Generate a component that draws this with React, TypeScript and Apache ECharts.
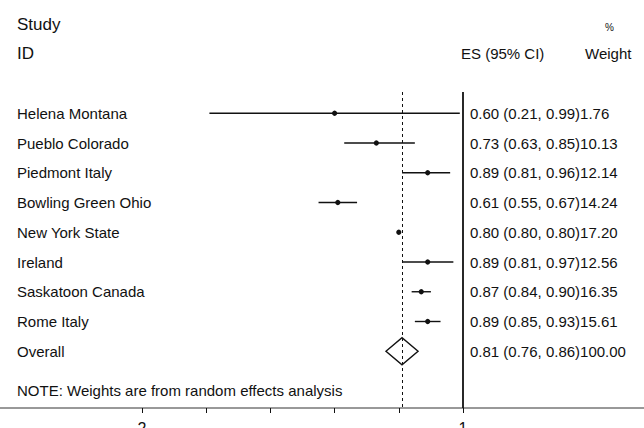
import React, { useEffect, useRef } from "react";
import * as echarts from "echarts";

// ---- data ----
const studies = [
  "Helena Montana",
  "Pueblo Colorado",
  "Piedmont Italy",
  "Bowling Green Ohio",
  "New York State",
  "Ireland",
  "Saskatoon Canada",
  "Rome Italy",
];
const es = [0.6, 0.73, 0.89, 0.61, 0.8, 0.89, 0.87, 0.89];
const lower = [0.21, 0.63, 0.81, 0.55, 0.8, 0.81, 0.84, 0.85];
const upper = [0.99, 0.85, 0.96, 0.67, 0.8, 0.97, 0.9, 0.93];
const weights = [1.76, 10.13, 12.14, 14.24, 17.2, 12.56, 16.35, 15.61];
const overall = { label: "Overall", es: 0.81, lower: 0.76, upper: 0.86, weight: 100.0 };
const xTickLabels: Record<string, string> = { "0": "2", "1": "1" };
const note = "NOTE: Weights are from random effects analysis";

// ---- layout ----
const W = 644;
const H = 428;
const FONT = "'Liberation Sans', Arial, sans-serif";
const FS = 15;
const HFS = 17;
const rowH = 29.75;
const row0Y = 24; // centre of "Study" row
const plotTop = 92;
const axisY = 408;
const noteY = 390;
const plotLeft = 142;
const plotRight = 463;
const textX = 17;
const esX = 470;
const firstStudyRow = 3;
const INK = "#111";

const fmt = (v: number) => v.toFixed(2);

export default function App() {
  const ref = useRef<HTMLDivElement>(null);
  useEffect(() => {
    if (!ref.current) return;
    const chart = echarts.init(ref.current, undefined, { renderer: "svg" });
    const yMin = (plotTop - row0Y) / rowH;
    const yMax = (axisY - row0Y) / rowH;
    const rowY = (r: number) => row0Y + r * rowH;

    const studyData = studies.map((s, i) => [es[i], firstStudyRow + i, lower[i], upper[i], weights[i], i]);
    const overallRow = firstStudyRow + studies.length;

    const option: any = {
      animation: false,
      backgroundColor: "#fff",
      grid: {
        left: plotLeft,
        width: plotRight - plotLeft,
        top: plotTop,
        height: axisY - plotTop,
        containLabel: false,
        outerBoundsMode: "none",
      },
      xAxis: {
        type: "value",
        min: 0,
        max: 1,
        interval: 0.2,
        splitLine: { show: false },
        axisLine: { show: false },
        axisTick: { show: true, length: 5, lineStyle: { color: INK, width: 1 } },
        axisLabel: {
          show: true,
          margin: 12,
          fontFamily: FONT,
          fontSize: 16,
          color: INK,
          formatter: (v: number) => xTickLabels[String(Math.round(v * 10) / 10)] ?? "",
        },
      },
      yAxis: { type: "value", inverse: true, min: yMin, max: yMax, show: false },
      graphic: [
        { type: "text", x: textX, y: rowY(0), style: { text: "Study", font: `${HFS}px ${FONT}`, fill: INK, verticalAlign: "middle" } },
        { type: "text", x: textX, y: rowY(1), style: { text: "ID", font: `${HFS}px ${FONT}`, fill: INK, verticalAlign: "middle" } },
        { type: "text", x: 605, y: rowY(0) + 3, style: { text: "%", font: `10px ${FONT}`, fill: INK, verticalAlign: "middle" } },
        { type: "text", x: 461, y: rowY(1), style: { text: "ES (95% CI)", font: `${FS}px ${FONT}`, fill: INK, verticalAlign: "middle" } },
        { type: "text", x: 585, y: rowY(1), style: { text: "Weight", font: `${FS}px ${FONT}`, fill: INK, verticalAlign: "middle" } },
        { type: "text", x: textX, y: noteY, style: { text: note, font: `${FS}px ${FONT}`, fill: INK, verticalAlign: "middle" } },
        { type: "line", shape: { x1: 0, y1: axisY, x2: W, y2: axisY }, style: { stroke: "#333", lineWidth: 1 } },
      ],
      series: [
        {
          type: "custom",
          clip: false,
          data: studyData,
          renderItem: (params: any, api: any) => {
            const y = api.value(1);
            const p = api.coord([api.value(0), y]);
            const lo = api.coord([api.value(2), y]);
            const hi = api.coord([api.value(3), y]);
            const i = api.value(5);
            return {
              type: "group",
              children: [
                { type: "line", shape: { x1: lo[0], y1: p[1], x2: hi[0], y2: p[1] }, style: { stroke: INK, lineWidth: 1.4 } },
                { type: "circle", shape: { cx: p[0], cy: p[1], r: 2.6 }, style: { fill: INK } },
                { type: "text", x: textX, y: p[1], style: { text: studies[i], font: `${FS}px ${FONT}`, fill: INK, verticalAlign: "middle" } },
                {
                  type: "text",
                  x: esX,
                  y: p[1],
                  style: {
                    text: `${fmt(es[i])} (${fmt(lower[i])}, ${fmt(upper[i])})${fmt(weights[i])}`,
                    font: `${FS}px ${FONT}`,
                    fill: INK,
                    verticalAlign: "middle",
                  },
                },
              ],
            };
          },
        },
        {
          type: "custom",
          clip: false,
          data: [[overall.es, overallRow, overall.lower, overall.upper, overall.weight]],
          renderItem: (params: any, api: any) => {
            const y = api.value(1);
            const c = api.coord([api.value(0), y]);
            const lo = api.coord([api.value(2), y]);
            const hi = api.coord([api.value(3), y]);
            const half = 13.5;
            return {
              type: "group",
              children: [
                {
                  type: "polygon",
                  shape: { points: [[lo[0], c[1]], [c[0], c[1] - half], [hi[0], c[1]], [c[0], c[1] + half]] },
                  style: { fill: "none", stroke: INK, lineWidth: 1.4 },
                },
                { type: "text", x: textX, y: c[1], style: { text: overall.label, font: `${FS}px ${FONT}`, fill: INK, verticalAlign: "middle" } },
                {
                  type: "text",
                  x: esX,
                  y: c[1],
                  style: {
                    text: `${fmt(overall.es)} (${fmt(overall.lower)}, ${fmt(overall.upper)})${fmt(overall.weight)}`,
                    font: `${FS}px ${FONT}`,
                    fill: INK,
                    verticalAlign: "middle",
                  },
                },
              ],
            };
          },
        },
        {
          type: "line",
          data: [],
          markLine: {
            symbol: "none",
            silent: true,
            label: { show: false },
            data: [
              { xAxis: overall.es, lineStyle: { type: [3, 3], color: INK, width: 1 } },
              { xAxis: 1, lineStyle: { type: "solid", color: INK, width: 1.8 } },
            ],
          },
        },
      ],
    };
    chart.setOption(option);
    return () => chart.dispose();
  }, []);
  return <div ref={ref} style={{ width: W, height: H, position: "absolute", left: 0, top: 0 }} />;
}
